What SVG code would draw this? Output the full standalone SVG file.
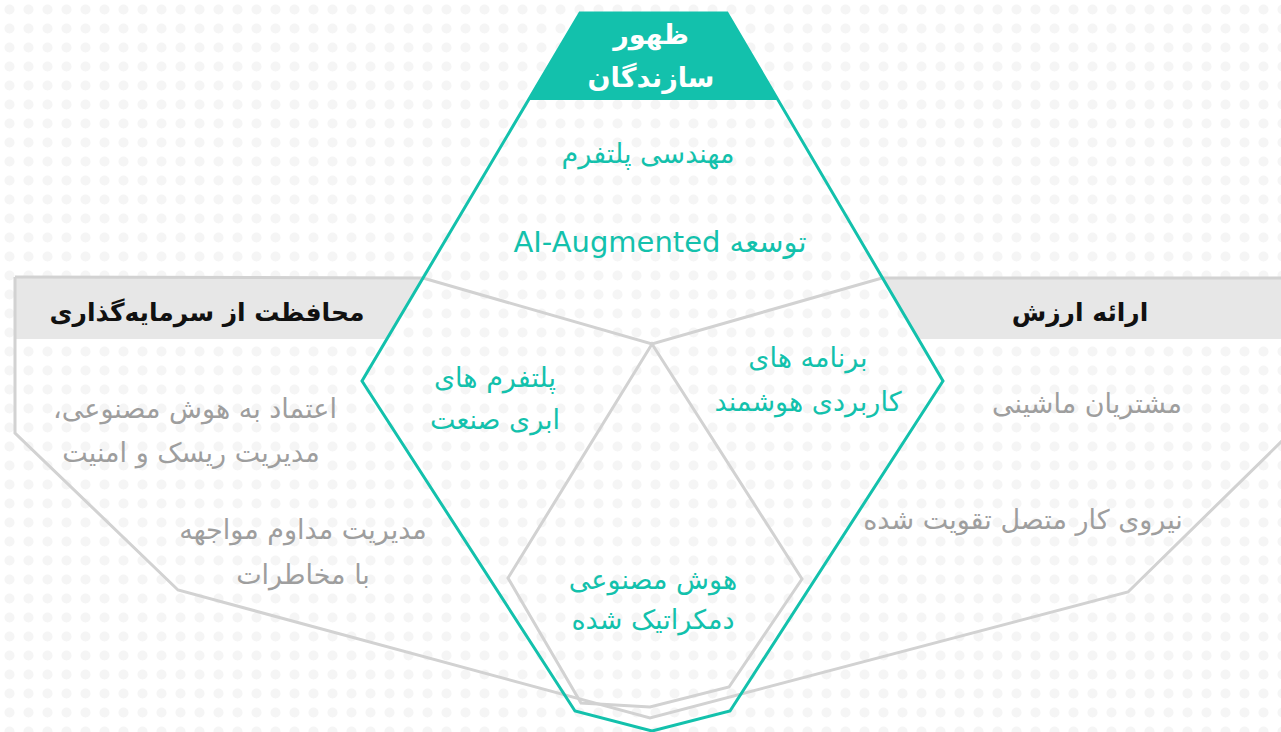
<svg xmlns="http://www.w3.org/2000/svg" width="1281" height="732" viewBox="0 0 1281 732">
<defs>
<pattern id="dots" x="0" y="0" width="19" height="19" patternUnits="userSpaceOnUse">
<circle cx="9.5" cy="9.5" r="5" fill="#f1f1f1"/>
</pattern>
<style>
.teal{fill:none;stroke:#13c1ac;stroke-width:3;stroke-linejoin:miter}
.gray{fill:none;stroke:#d2d2d2;stroke-width:3;stroke-linejoin:miter}
.band{fill:#e7e7e7}
text{font-family:"DejaVu Sans","Noto Sans",sans-serif;direction:rtl;text-anchor:middle}
.hd{fill:#ffffff;font-weight:bold;font-size:27px}
.sec{fill:#111111;font-weight:bold;font-size:25px}
.tl{fill:#13c1ac;font-size:27px}
.gr{fill:#9e9e9e;font-size:27px}
</style>
</defs>
<rect width="1281" height="732" fill="#ffffff"/>
<rect width="1281" height="732" fill="url(#dots)" opacity="0.75"/>
<g id="bands">
<polygon class="band" points="15,278 424,278 388,339 15,339"/>
<polygon class="band" points="882,278 1281,278 1281,339 918,339"/>
</g>
<g id="connectors">
<polyline class="gray" points="15,277 423,278 652,344 882,278 1283,278"/>
<polyline class="gray" points="15,277 15,433 178,590 650,718 1128,592 1283,440"/>
<polygon class="gray" points="652,344 802,579 729,687 650,707 581,703 508,578"/>
<polygon class="teal" points="580,13 727,13 943,381 730,711 652,731 575,711 362,381"/>
</g>
<g id="node-top">
<polygon points="580,13 727,13 778,100 528,100" fill="#13c1ac"/>
<text class="hd" x="651" y="44">ظهور</text>
<text class="hd" x="651" y="87">سازندگان</text>
<text class="tl" x="648" y="163">مهندسی پلتفرم</text>
<text class="tl" x="660" y="252" style="font-size:29px">توسعه AI-Augmented</text>
</g>
<g id="node-left">
<text class="sec" x="207" y="321">محافظت از سرمایه‌گذاری</text>
<text class="gr" x="195" y="418">اعتماد به هوش مصنوعی،</text>
<text class="gr" x="191" y="462">مدیریت ریسک و امنیت</text>
<text class="gr" x="303" y="539">مدیریت مداوم مواجهه</text>
<text class="gr" x="303" y="584">با مخاطرات</text>
</g>
<g id="node-right">
<text class="sec" x="1080" y="321">ارائه ارزش</text>
<text class="gr" x="1087" y="413">مشتریان ماشینی</text>
<text class="gr" x="1023" y="529">نیروی کار متصل تقویت شده</text>
</g>
<g id="node-center-left">
<text class="tl" x="495" y="387">پلتفرم های</text>
<text class="tl" x="495" y="429">ابری صنعت</text>
</g>
<g id="node-center-right">
<text class="tl" x="808" y="367">برنامه های</text>
<text class="tl" x="808" y="411">کاربردی هوشمند</text>
</g>
<g id="node-bottom">
<text class="tl" x="653" y="589">هوش مصنوعی</text>
<text class="tl" x="653" y="629">دمکراتیک شده</text>
</g>
</svg>
